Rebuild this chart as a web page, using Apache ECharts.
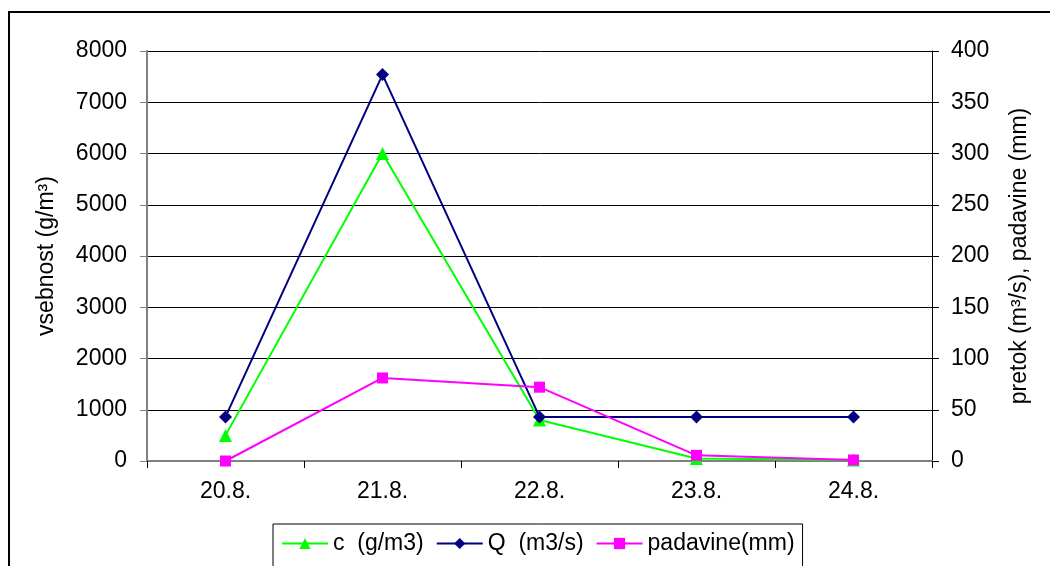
<!DOCTYPE html>
<html>
<head>
<meta charset="utf-8">
<script src="https://cdn.jsdelivr.net/npm/echarts@6/dist/echarts.min.js"></script>
<style>
  html, body { margin: 0; padding: 0; background: #fff; }
  #chart { width: 1050px; height: 566px; }
</style>
</head>
<body>
<div id="chart"></div>
<script>
const days = ['20.8.', '21.8.', '22.8.', '23.8.', '24.8.'];
const cValues = [500, 6000, 800, 50, 20];          // g/m3, left axis
const qValues = [43, 377, 43, 43, 43];             // m3/s, right axis
const rainValues = [0, 81, 72, 5.5, 1];            // mm, right axis
const leftTicks = [0, 8000, 1000];
const rightTicks = [0, 400, 50];

const font = 'Liberation Sans, Arial, sans-serif';
const chart = echarts.init(document.getElementById('chart'));

chart.setOption({
  animation: false,
  backgroundColor: '#fff',
  textStyle: { fontFamily: font },
  graphic: [{
    type: 'rect',
    shape: { x: 9, y: 12, width: 1080, height: 600 },
    style: { fill: 'none', stroke: '#000', lineWidth: 2 },
    silent: true
  }],
  grid: { left: 147, right: 118, top: 51, bottom: 105 },
  legend: {
    top: 524,
    left: 273,
    itemWidth: 46,
    itemHeight: 14,
    itemGap: 12,
    padding: [8, 8, 24, 8],
    borderColor: '#000',
    borderWidth: 1,
    textStyle: { fontSize: 23, color: '#000', fontFamily: font },
    data: ['c  (g/m3)', 'Q  (m3/s)', 'padavine(mm)']
  },
  xAxis: {
    type: 'category',
    data: days,
    boundaryGap: true,
    axisLine: { lineStyle: { color: '#808080', width: 2 } },
    axisTick: { show: true, length: 7, lineStyle: { color: '#000' } },
    axisLabel: { fontSize: 23, color: '#000', margin: 19 }
  },
  yAxis: [{
    type: 'value',
    min: leftTicks[0], max: leftTicks[1], interval: leftTicks[2],
    position: 'left',
    name: 'vsebnost (g/m³)',
    nameLocation: 'middle',
    nameGap: 89,
    nameRotate: 90,
    nameTextStyle: { fontSize: 23, color: '#000' },
    axisLine: { show: true, lineStyle: { color: '#808080', width: 2 } },
    axisTick: { show: true, length: 7, lineStyle: { color: '#808080' } },
    axisLabel: { fontSize: 23, color: '#000', margin: 20, formatter: v => String(v) },
    splitLine: { show: true, lineStyle: { color: '#000', width: 1 } }
  }, {
    type: 'value',
    min: rightTicks[0], max: rightTicks[1], interval: rightTicks[2],
    position: 'right',
    name: 'pretok (m³/s), padavine (mm)',
    nameLocation: 'middle',
    nameGap: 76,
    nameRotate: 90,
    nameTextStyle: { fontSize: 23, color: '#000' },
    axisLine: { show: true, lineStyle: { color: '#000', width: 1 } },
    axisTick: { show: true, length: 7, lineStyle: { color: '#000' } },
    axisLabel: { fontSize: 23, color: '#000', margin: 19, formatter: v => String(v) },
    splitLine: { show: false }
  }],
  series: [{
    name: 'c  (g/m3)',
    type: 'line',
    yAxisIndex: 0,
    data: cValues,
    symbol: 'triangle',
    symbolSize: 13,
    color: '#00ff00',
    lineStyle: { width: 2 }
  }, {
    name: 'Q  (m3/s)',
    type: 'line',
    yAxisIndex: 1,
    data: qValues,
    symbol: 'diamond',
    symbolSize: 13,
    color: '#000080',
    lineStyle: { width: 2 }
  }, {
    name: 'padavine(mm)',
    type: 'line',
    yAxisIndex: 1,
    data: rainValues,
    symbol: 'rect',
    symbolSize: 11,
    color: '#ff00ff',
    lineStyle: { width: 2 }
  }]
});
</script>
</body>
</html>
